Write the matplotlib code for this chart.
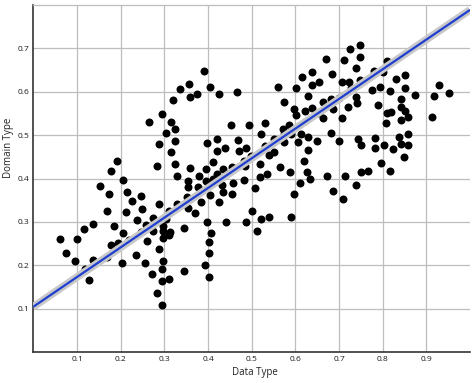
import matplotlib
matplotlib.use("Agg")
import matplotlib.pyplot as plt
import numpy as np

# ---- data ----
data_type = [
    0.335, 0.320, 0.295, 0.265, 0.316, 0.325, 0.303, 0.325, 0.288, 0.315, 0.325, 0.282, 0.192, 0.178,
    0.356, 0.358, 0.375, 0.390, 0.404, 0.425, 0.466, 0.616, 0.638, 0.637, 0.655, 0.560, 0.601, 0.628,
    0.574, 0.596, 0.622, 0.638, 0.601, 0.654, 0.453, 0.494, 0.530, 0.521, 0.572, 0.585, 0.573, 0.590,
    0.612, 0.630, 0.650, 0.551, 0.574, 0.607, 0.398, 0.421, 0.420, 0.438, 0.468, 0.471, 0.488, 0.530,
    0.552, 0.539, 0.629, 0.498, 0.482, 0.519, 0.565, 0.588, 0.619, 0.627, 0.411, 0.395, 0.358, 0.435,
    0.454, 0.484,
    0.670, 0.725, 0.748, 0.748, 0.711, 0.738, 0.685, 0.779, 0.809, 0.800, 0.747, 0.707, 0.723, 0.728,
    0.775, 0.794, 0.816, 0.830, 0.851, 0.852, 0.930, 0.952, 0.917, 0.875, 0.738, 0.742, 0.700, 0.681,
    0.664, 0.687, 0.720, 0.790, 0.842, 0.842, 0.851, 0.859, 0.842, 0.811, 0.820, 0.807, 0.664, 0.707,
    0.912, 0.681, 0.701, 0.743, 0.751, 0.782, 0.782, 0.802, 0.823, 0.837, 0.842, 0.858, 0.859, 0.849,
    0.797, 0.767, 0.750, 0.817,
    0.205, 0.152, 0.173, 0.215, 0.226, 0.247, 0.248, 0.212, 0.169, 0.238, 0.288, 0.328, 0.329, 0.310,
    0.275, 0.304, 0.259, 0.275, 0.247, 0.296, 0.297, 0.312, 0.346, 0.137, 0.115, 0.185, 0.206, 0.219,
    0.260, 0.296, 0.311, 0.060, 0.101, 0.075, 0.096, 0.136, 0.178, 0.194, 0.168, 0.204, 0.235, 0.255,
    0.287, 0.297, 0.294, 0.271, 0.294, 0.310, 0.284, 0.294, 0.344, 0.118, 0.128,
    0.354, 0.353, 0.351, 0.353,
    0.379, 0.420, 0.395, 0.412, 0.458, 0.482, 0.518, 0.536, 0.633, 0.610, 0.508, 0.596, 0.376, 0.433,
    0.383, 0.404, 0.434, 0.456, 0.425, 0.370, 0.500, 0.521, 0.539, 0.591, 0.442, 0.486, 0.512, 0.397,
    0.406, 0.403, 0.403, 0.393, 0.403,
    0.672, 0.714, 0.687, 0.708, 0.740,
]
domain_type = [
    0.607, 0.581, 0.548, 0.530, 0.530, 0.515, 0.505, 0.486, 0.479, 0.460, 0.433, 0.429, 0.441, 0.417,
    0.617, 0.588, 0.594, 0.647, 0.611, 0.594, 0.598, 0.634, 0.644, 0.616, 0.621, 0.611, 0.609, 0.589,
    0.576, 0.560, 0.555, 0.563, 0.546, 0.550, 0.523, 0.522, 0.528, 0.502, 0.514, 0.522, 0.502, 0.503,
    0.502, 0.496, 0.486, 0.492, 0.485, 0.485, 0.482, 0.492, 0.464, 0.470, 0.488, 0.463, 0.470, 0.475,
    0.462, 0.453, 0.466, 0.452, 0.440, 0.433, 0.427, 0.414, 0.440, 0.416, 0.438, 0.421, 0.424, 0.421,
    0.426, 0.429,
    0.674, 0.698, 0.708, 0.680, 0.673, 0.654, 0.640, 0.647, 0.670, 0.646, 0.627, 0.622, 0.623, 0.608,
    0.604, 0.611, 0.602, 0.628, 0.638, 0.609, 0.616, 0.597, 0.591, 0.593, 0.588, 0.573, 0.585, 0.582,
    0.576, 0.560, 0.564, 0.569, 0.584, 0.564, 0.556, 0.541, 0.535, 0.551, 0.552, 0.527, 0.540, 0.539,
    0.541, 0.505, 0.486, 0.491, 0.476, 0.494, 0.470, 0.476, 0.468, 0.495, 0.479, 0.503, 0.476, 0.449,
    0.436, 0.418, 0.414, 0.417,
    0.397, 0.383, 0.364, 0.368, 0.349, 0.359, 0.330, 0.324, 0.326, 0.304, 0.341, 0.406, 0.341, 0.325,
    0.308, 0.307, 0.293, 0.279, 0.278, 0.291, 0.279, 0.277, 0.287, 0.295, 0.284, 0.291, 0.274, 0.258,
    0.256, 0.264, 0.269, 0.261, 0.260, 0.228, 0.209, 0.213, 0.247, 0.252, 0.220, 0.205, 0.223, 0.205,
    0.237, 0.209, 0.191, 0.181, 0.165, 0.169, 0.136, 0.110, 0.188, 0.192, 0.166,
    0.395, 0.381, 0.358, 0.331,
    0.406, 0.410, 0.395, 0.399, 0.389, 0.397, 0.404, 0.410, 0.398, 0.389, 0.377, 0.364, 0.380, 0.385,
    0.346, 0.362, 0.370, 0.364, 0.345, 0.321, 0.325, 0.307, 0.312, 0.312, 0.301, 0.299, 0.280, 0.301,
    0.274, 0.255, 0.228, 0.201, 0.173,
    0.406, 0.406, 0.371, 0.353, 0.385,
]
# regression line as drawn in the reference
fit_intercept = 0.105
fit_slope = 0.683

x_ticks = [0.1, 0.2, 0.3, 0.4, 0.5, 0.6, 0.7, 0.8, 0.9]
y_ticks = [0.1, 0.2, 0.3, 0.4, 0.5, 0.6, 0.7]
x_label = "Data Type"
y_label = "Domain Type"

plt.rcParams['font.family'] = ['Open Sans', 'DejaVu Sans']

fig = plt.figure(figsize=(4.74, 3.83), dpi=100)
ax = fig.add_axes([33.4 / 474, (383 - 352.3) / 383, 436.6 / 474, 347.6 / 383])
ax.set_xlim(0, 1.0)
ax.set_ylim(0, 0.8)

ax.set_xticks(x_ticks)
ax.set_yticks(y_ticks)
ax.set_xticklabels([f"{v:.1f}" for v in x_ticks])
ax.set_yticklabels([f"{v:.1f}" for v in y_ticks])
ax.tick_params(axis='both', length=0, labelsize=6.0, colors='#1a1a1a')
ax.tick_params(axis='x', pad=3)
ax.tick_params(axis='y', pad=3)

ax.grid(True, color='#bdbdbd', linewidth=0.9)
ax.set_axisbelow(True)

for s in ['left', 'bottom']:
    ax.spines[s].set_color('#333333')
    ax.spines[s].set_linewidth(1.2)
ax.spines['top'].set_color('#bdbdbd')
ax.spines['top'].set_linewidth(0.9)
ax.spines['right'].set_visible(False)

ax.scatter(data_type, domain_type, s=33, color='black', linewidths=0, zorder=3)

xs = np.array(ax.get_xlim())
ys = fit_intercept + fit_slope * xs
ax.plot(xs, ys, color='#c8c8c8', linewidth=5.5, solid_capstyle='butt', zorder=4)
ax.plot(xs, ys, color='#1f3fd0', linewidth=1.6, solid_capstyle='butt', zorder=5)

ax.set_xlabel(x_label, fontsize=7.0, color='#222222')
ax.set_ylabel(y_label, fontsize=7.0, color='#222222')
ax.xaxis.label.set_va('center')
ax.yaxis.label.set_va('center')
ax.xaxis.set_label_coords((255 - 33.4) / 436.6, (352.3 - 372.7) / 347.6)
ax.yaxis.set_label_coords((9 - 33.4) / 436.6, (352.3 - 148) / 347.6)

fig.savefig("out.png", dpi=100, facecolor='white')
